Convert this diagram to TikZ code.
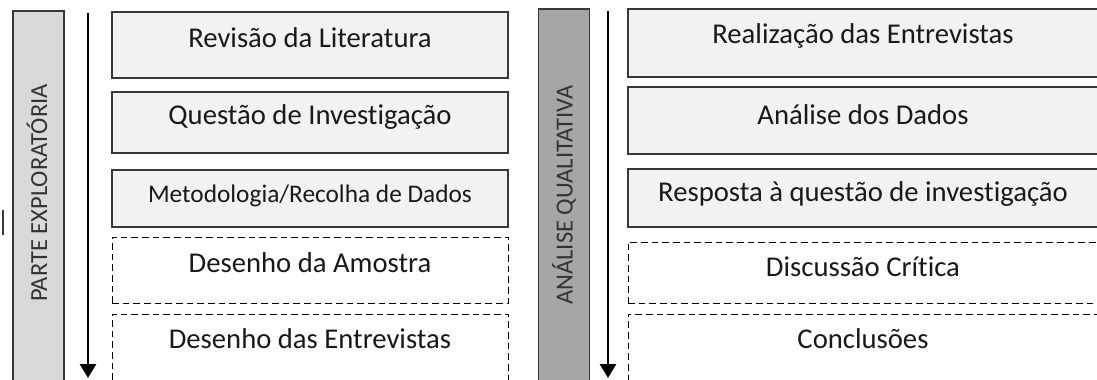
\documentclass[tikz,border=0pt]{standalone}
\usepackage{fontspec}
\setmainfont{Carlito}[Ligatures=NoCommon]
\usetikzlibrary{arrows.meta}
\definecolor{boxfill}{RGB}{242,242,242}
\definecolor{barlight}{RGB}{217,217,217}
\definecolor{bardark}{RGB}{166,166,166}
\definecolor{edge}{RGB}{56,56,56}
\tikzset{
  stepbox/.style={draw=edge, line width=1pt, fill=boxfill, inner sep=0pt},
  openbox/.style={draw=black, line width=0.75pt, dash pattern=on 5pt off 3pt, fill=white, inner sep=0pt},
  phasebar/.style={draw=edge, line width=1pt, inner sep=0pt, minimum width=38.25pt},
  lbl/.style={inner sep=0pt, font=\fontsize{21.5}{24}\selectfont, text=black!90},
  barlbl/.style={inner sep=0pt, rotate=90, font=\fontsize{18.4}{20}\selectfont, text=black!80},
  flow/.style={line width=2.2pt, -{Triangle[width=12pt,length=10.5pt]}}
}

\begin{document}
\begin{tikzpicture}[x=0.75pt,y=0.75pt,yscale=-1,xscale=1]
\useasboundingbox (0,0) rectangle (1097,379);
\clip (0,0) rectangle (1097,379);

% Left column
\node [phasebar, fill=barlight, minimum height=282pt] (expl) at (38.5,199) {};
\node [barlbl] at (37,193) {PARTE EXPLORATÓRIA};
\coordinate (expltop) at (88,13);
\coordinate (explend) at (88,378);
\draw [flow] (expltop) -- (explend);
\draw [edge, line width=0.9pt] (3,210) -- (3,235);

\node [stepbox, minimum width=297pt, minimum height=49.5pt] (lit) at (310,45) {};
\node [lbl] at ([yshift=19.5pt]lit.north) {Revisão da Literatura};
\node [stepbox, minimum width=297pt, minimum height=45.75pt] (quest) at (310,122.5) {};
\node [lbl] at ([yshift=19.5pt]quest.north) {Questão de Investigação};
\node [stepbox, minimum width=297pt, minimum height=42.75pt] (metod) at (310,198.5) {};
\node [lbl, font=\fontsize{19}{22}\selectfont] at ([yshift=20pt]metod.north) {Metodologia/Recolha de Dados};
\node [openbox, minimum width=297pt, minimum height=49.5pt] (amostra) at (310,270) {};
\node [lbl] at ([yshift=19.5pt]amostra.north) {Desenho da Amostra};
\node [openbox, minimum width=297pt, minimum height=49.5pt] (entrev) at (310,347) {};
\node [lbl] at ([yshift=19pt]entrev.north) {Desenho das Entrevistas};

% Right column
\node [phasebar, fill=bardark, minimum height=282pt] (qual) at (564,197) {};
\node [barlbl] at (564,195) {ANÁLISE QUALITATIVA};
\coordinate (qualtop) at (608,11);
\coordinate (qualend) at (608,378);
\draw [flow] (qualtop) -- (qualend);

\node [stepbox, minimum width=352.5pt, minimum height=51pt] (realiz) at (863,43) {};
\node [lbl] at ([yshift=21pt]realiz.north) {Realização das Entrevistas};
\node [stepbox, minimum width=352.5pt, minimum height=50.25pt] (analise) at (863,120.5) {};
\node [lbl] at ([yshift=21pt]analise.north) {Análise dos Dados};
\node [stepbox, minimum width=352.5pt, minimum height=43.5pt] (resp) at (863,198) {};
\node [lbl] at ([yshift=19.5pt]resp.north) {Resposta à questão de investigação};
\node [openbox, minimum width=352.5pt, minimum height=45.75pt] (discus) at (863,272.5) {};
\node [lbl] at ([yshift=19pt]discus.north) {Discussão Crítica};
\node [openbox, minimum width=352.5pt, minimum height=49.5pt] (concl) at (863,347) {};
\node [lbl] at ([yshift=19pt]concl.north) {Conclusões};

\end{tikzpicture}
\end{document}
